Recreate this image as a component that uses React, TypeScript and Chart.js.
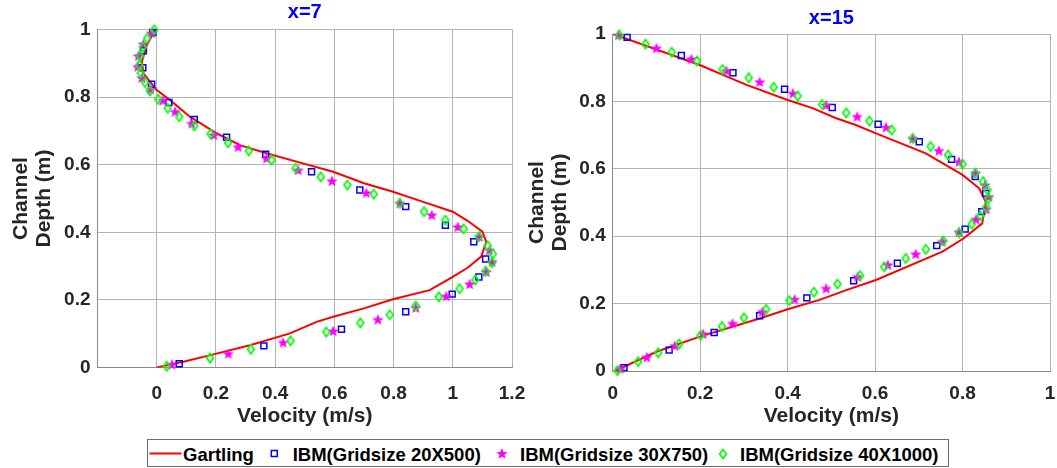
import React, { useEffect, useRef } from "react";
import { Chart, registerables } from "chart.js";

Chart.register(...registerables);

// ---------- Data: x = 7 ----------
const leftGartlingX = [-0.005, -0.035, -0.05, -0.045, 0.0, 0.045, 0.112, 0.202, 0.281, 0.371, 0.472, 0.596, 0.7, 0.798, 0.9, 1.0, 1.05, 1.1, 1.113, 1.096, 1.05, 1.0, 0.922, 0.798, 0.7, 0.596, 0.54, 0.45, 0.315, 0.202, 0.09, 0.0];
const leftGartlingY = [1.0, 0.95, 0.905, 0.87, 0.821, 0.791, 0.742, 0.693, 0.658, 0.634, 0.609, 0.579, 0.545, 0.52, 0.49, 0.461, 0.434, 0.402, 0.372, 0.328, 0.295, 0.268, 0.229, 0.202, 0.175, 0.15, 0.135, 0.101, 0.066, 0.041, 0.017, 0.0];

const leftG20X = [0.076, 0.362, 0.624, 0.841, 0.998, 1.088, 1.111, 1.071, 0.975, 0.841, 0.686, 0.523, 0.368, 0.236, 0.127, 0.041, -0.017, -0.047, -0.045, -0.013];
const leftG20Y = [0.011, 0.064, 0.113, 0.165, 0.217, 0.268, 0.321, 0.372, 0.421, 0.476, 0.525, 0.579, 0.631, 0.681, 0.734, 0.784, 0.838, 0.887, 0.937, 0.991];

const leftG30X = [0.051, 0.242, 0.427, 0.596, 0.747, 0.875, 0.978, 1.057, 1.113, 1.133, 1.124, 1.09, 1.017, 0.929, 0.821, 0.708, 0.592, 0.478, 0.371, 0.275, 0.193, 0.118, 0.062, 0.02, -0.02, -0.05, -0.064, -0.062, -0.045, -0.017];
const leftG30Y = [0.009, 0.041, 0.074, 0.108, 0.142, 0.177, 0.211, 0.247, 0.283, 0.313, 0.347, 0.387, 0.416, 0.451, 0.486, 0.517, 0.552, 0.584, 0.619, 0.653, 0.688, 0.722, 0.757, 0.79, 0.823, 0.857, 0.89, 0.922, 0.957, 0.99];

const leftG40X = [0.034, 0.18, 0.318, 0.452, 0.573, 0.688, 0.787, 0.875, 0.953, 1.023, 1.076, 1.111, 1.133, 1.135, 1.118, 1.088, 1.037, 0.975, 0.903, 0.821, 0.733, 0.644, 0.554, 0.469, 0.388, 0.311, 0.241, 0.182, 0.127, 0.076, 0.037, 0.005, -0.023, -0.039, -0.054, -0.059, -0.056, -0.047, -0.032, -0.008];
const leftG40Y = [0.004, 0.028, 0.054, 0.079, 0.105, 0.132, 0.156, 0.182, 0.209, 0.233, 0.259, 0.285, 0.31, 0.336, 0.36, 0.387, 0.41, 0.436, 0.461, 0.486, 0.513, 0.54, 0.564, 0.589, 0.614, 0.641, 0.665, 0.691, 0.715, 0.742, 0.767, 0.794, 0.818, 0.843, 0.871, 0.895, 0.922, 0.948, 0.974, 0.999];

// ---------- Data: x = 15 ----------
const rightGartlingX = [0.005, 0.1, 0.199, 0.336, 0.4, 0.473, 0.534, 0.602, 0.754, 0.803, 0.845, 0.853, 0.838, 0.8, 0.716, 0.602, 0.556, 0.511, 0.457, 0.4, 0.306, 0.199, 0.001];
const rightGartlingY = [0.0, 0.057, 0.102, 0.156, 0.183, 0.211, 0.24, 0.27, 0.354, 0.394, 0.438, 0.502, 0.542, 0.582, 0.646, 0.705, 0.73, 0.75, 0.78, 0.804, 0.849, 0.908, 1.0];

const rightG20X = [0.026, 0.129, 0.232, 0.336, 0.444, 0.551, 0.651, 0.741, 0.806, 0.844, 0.853, 0.829, 0.775, 0.701, 0.607, 0.502, 0.393, 0.275, 0.157, 0.033];
const rightG20Y = [0.01, 0.062, 0.114, 0.164, 0.217, 0.268, 0.32, 0.372, 0.421, 0.473, 0.527, 0.577, 0.628, 0.68, 0.732, 0.782, 0.836, 0.885, 0.936, 0.99];

const rightG30X = [0.017, 0.078, 0.142, 0.207, 0.274, 0.342, 0.416, 0.488, 0.56, 0.629, 0.693, 0.754, 0.792, 0.831, 0.854, 0.86, 0.851, 0.83, 0.792, 0.746, 0.686, 0.625, 0.559, 0.488, 0.412, 0.336, 0.26, 0.18, 0.1, 0.013];
const rightG30Y = [0.007, 0.041, 0.075, 0.11, 0.141, 0.176, 0.213, 0.245, 0.28, 0.315, 0.347, 0.384, 0.413, 0.45, 0.48, 0.517, 0.552, 0.587, 0.621, 0.654, 0.69, 0.723, 0.755, 0.789, 0.824, 0.858, 0.891, 0.926, 0.958, 0.997];

const rightG40X = [0.011, 0.058, 0.104, 0.152, 0.201, 0.25, 0.3, 0.351, 0.404, 0.46, 0.514, 0.566, 0.621, 0.67, 0.716, 0.756, 0.792, 0.821, 0.841, 0.854, 0.859, 0.857, 0.847, 0.829, 0.8, 0.767, 0.727, 0.686, 0.638, 0.587, 0.534, 0.479, 0.423, 0.368, 0.311, 0.251, 0.193, 0.135, 0.075, 0.015];
const rightG40Y = [0.001, 0.028, 0.054, 0.08, 0.106, 0.132, 0.158, 0.183, 0.209, 0.234, 0.258, 0.283, 0.309, 0.334, 0.361, 0.386, 0.41, 0.436, 0.461, 0.486, 0.511, 0.537, 0.562, 0.587, 0.614, 0.641, 0.666, 0.69, 0.715, 0.742, 0.766, 0.791, 0.816, 0.842, 0.87, 0.895, 0.92, 0.946, 0.97, 0.997];

// ---------- Labels ----------
const seriesNames = ["Gartling", "IBM(Gridsize 20X500)", "IBM(Gridsize 30X750)", "IBM(Gridsize 40X1000)"];
const plotTitles = ["x=7", "x=15"];
const xAxisTitle = "Velocity (m/s)";
const yAxisTitle = ["Channel", "Depth (m)"];

const FONT = "'Liberation Sans', Arial, Helvetica, sans-serif";
const TEXT = "#262626";
const RED = "#ff0000";
const BLUE = "#0000ff";
const MAGENTA = "#ff00ff";
const GREEN = "#00ff00";

const pts = (xs: number[], ys: number[]) => xs.map((x, i) => ({ x, y: ys[i] }));

function starCanvas(R: number, r: number, color: string) {
  const size = Math.ceil(R * 2) + 2;
  const c = document.createElement("canvas");
  c.width = size;
  c.height = size;
  const ctx = c.getContext("2d")!;
  ctx.fillStyle = color;
  ctx.beginPath();
  for (let i = 0; i < 10; i++) {
    const a = -Math.PI / 2 + (i * Math.PI) / 5;
    const rad = i % 2 === 0 ? R : r;
    const px = size / 2 + rad * Math.cos(a);
    const py = size / 2 + 0.5 + rad * Math.sin(a);
    if (i === 0) ctx.moveTo(px, py);
    else ctx.lineTo(px, py);
  }
  ctx.closePath();
  ctx.fill();
  return c;
}

function diamondCanvas(hw: number, hh: number, color: string, lw: number) {
  const w = Math.ceil(hw * 2 + lw * 2 + 1);
  const h = Math.ceil(hh * 2 + lw * 2 + 1);
  const c = document.createElement("canvas");
  c.width = w;
  c.height = h;
  const ctx = c.getContext("2d")!;
  ctx.strokeStyle = color;
  ctx.lineWidth = lw;
  ctx.beginPath();
  ctx.moveTo(w / 2, h / 2 - hh);
  ctx.lineTo(w / 2 + hw, h / 2);
  ctx.lineTo(w / 2, h / 2 + hh);
  ctx.lineTo(w / 2 - hw, h / 2);
  ctx.closePath();
  ctx.stroke();
  return c;
}

type Cfg = {
  title: string;
  xmin: number;
  xmax: number;
  yWidth: number;
  xHeight: number;
  layoutPad: { left: number; right: number; top: number; bottom: number };
  titlePad: { top: number; bottom: number };
  yTitlePadTop: number;
  xTickLen: number;
  xTitlePadBottom: number;
  gart: { x: number; y: number }[];
  g20: { x: number; y: number }[];
  g30: { x: number; y: number }[];
  g40: { x: number; y: number }[];
};

const fmt = (v: number) => String(Number(v.toFixed(2)));

function buildConfig(cfg: Cfg, star: HTMLCanvasElement, diamond: HTMLCanvasElement): any {
  return {
    type: "scatter",
    data: {
      datasets: [
        {
          label: seriesNames[0],
          data: cfg.gart,
          showLine: true,
          borderColor: RED,
          borderWidth: 2,
          pointRadius: 0,
          tension: 0,
          order: 3,
        },
        {
          label: seriesNames[1],
          data: cfg.g20,
          pointStyle: "rect",
          pointRadius: 4.2,
          pointBorderColor: BLUE,
          pointBackgroundColor: "rgba(0,0,0,0)",
          pointBorderWidth: 1.5,
          clip: false,
          order: 2,
        },
        {
          label: seriesNames[2],
          data: cfg.g30,
          pointStyle: star,
          pointRadius: 6,
          clip: false,
          order: 1,
        },
        {
          label: seriesNames[3],
          data: cfg.g40,
          pointStyle: diamond,
          pointRadius: 5,
          clip: false,
          order: 0,
        },
      ],
    },
    options: {
      responsive: false,
      animation: false,
      events: [],
      layout: { padding: cfg.layoutPad },
      plugins: {
        legend: { display: false },
        tooltip: { enabled: false },
        title: {
          display: true,
          text: cfg.title,
          color: BLUE,
          fullSize: false,
          font: { family: FONT, size: 20, weight: "bold", lineHeight: 1.2 },
          padding: cfg.titlePad,
        },
      },
      scales: {
        x: {
          type: "linear",
          min: cfg.xmin,
          max: cfg.xmax,
          afterFit: (s: any) => {
            s.height = cfg.xHeight;
          },
          ticks: {
            stepSize: 0.2,
            autoSkip: false,
            maxRotation: 0,
            padding: 0,
            color: TEXT,
            font: { family: FONT, size: 19, weight: "bold" },
            callback: (v: number) => (v < -0.1 ? "" : fmt(v)),
          },
          grid: {
            color: "#b4b4b4",
            lineWidth: 1,
            drawTicks: true,
            tickLength: cfg.xTickLen,
            tickColor: "rgba(0,0,0,0)",
          },
          border: { color: "#8a8a8a", width: 1 },
          title: {
            display: true,
            text: xAxisTitle,
            color: TEXT,
            font: { family: FONT, size: 21, weight: "bold", lineHeight: 1.2 },
            padding: { top: 0, bottom: cfg.xTitlePadBottom },
          },
        },
        y: {
          type: "linear",
          min: 0,
          max: 1,
          afterFit: (s: any) => {
            s.width = cfg.yWidth;
          },
          ticks: {
            stepSize: 0.2,
            autoSkip: false,
            padding: 7,
            color: TEXT,
            font: { family: FONT, size: 19, weight: "bold" },
            callback: (v: number) => fmt(v),
          },
          grid: { color: "#b4b4b4", lineWidth: 1, drawTicks: false },
          border: { color: "#8a8a8a", width: 1 },
          title: {
            display: true,
            text: yAxisTitle,
            color: TEXT,
            font: { family: FONT, size: 21, weight: "bold", lineHeight: 1.11 },
            padding: { top: cfg.yTitlePadTop, bottom: 0 },
          },
        },
      },
    },
  };
}

function PlotCanvas({ cfg, left, width, height }: { cfg: Cfg; left: number; width: number; height: number }) {
  const ref = useRef<HTMLCanvasElement>(null);
  useEffect(() => {
    if (!ref.current) return;
    const star = starCanvas(6, 2.6, MAGENTA);
    const diamond = diamondCanvas(3.4, 4.6, GREEN, 1.7);
    const chart = new Chart(ref.current, buildConfig(cfg, star, diamond));
    return () => chart.destroy();
  }, []);
  return (
    <canvas
      ref={ref}
      width={width}
      height={height}
      style={{ position: "absolute", left, top: 0, width, height }}
    />
  );
}

const leftCfg: Cfg = {
  title: plotTitles[0],
  xmin: -0.2,
  xmax: 1.2,
  yWidth: 97.5,
  xHeight: 62.5,
  layoutPad: { left: 0, right: 18, top: 0, bottom: 0 },
  titlePad: { top: 0, bottom: 5.5 },
  yTitlePadTop: 9.3,
  xTickLen: 14.5,
  xTitlePadBottom: 1.4,
  gart: pts(leftGartlingX, leftGartlingY),
  g20: pts(leftG20X, leftG20Y),
  g30: pts(leftG30X, leftG30Y),
  g40: pts(leftG40X, leftG40Y),
};

const rightCfg: Cfg = {
  title: plotTitles[1],
  xmin: 0,
  xmax: 1,
  yWidth: 92.7,
  xHeight: 59,
  layoutPad: { left: 0, right: 5.5, top: 0, bottom: 0 },
  titlePad: { top: 6, bottom: 4 },
  yTitlePadTop: 5.3,
  xTickLen: 11,
  xTitlePadBottom: 1.4,
  gart: pts(rightGartlingX, rightGartlingY),
  g20: pts(rightG20X, rightG20Y),
  g30: pts(rightG30X, rightG30Y),
  g40: pts(rightG40X, rightG40Y),
};

function starPoints(cx: number, cy: number, R: number, r: number) {
  const p: string[] = [];
  for (let i = 0; i < 10; i++) {
    const a = -Math.PI / 2 + (i * Math.PI) / 5;
    const rad = i % 2 === 0 ? R : r;
    p.push(`${(cx + rad * Math.cos(a)).toFixed(2)},${(cy + rad * Math.sin(a)).toFixed(2)}`);
  }
  return p.join(" ");
}

const legendText: React.CSSProperties = {
  position: "absolute",
  top: 441,
  height: 28,
  lineHeight: "28px",
  fontFamily: FONT,
  fontWeight: "bold",
  fontSize: 18.5,
  color: "#000",
  whiteSpace: "nowrap",
};

export default function App() {
  return (
    <div style={{ position: "absolute", left: 0, top: 0, width: 1057, height: 468, background: "#fff", overflow: "hidden" }}>
      <PlotCanvas cfg={leftCfg} left={0} width={530} height={430} />
      <PlotCanvas cfg={rightCfg} left={520} width={537} height={430} />
      <div
        style={{
          position: "absolute",
          left: 147,
          top: 439,
          width: 802,
          height: 28,
          boxSizing: "border-box",
          border: "1px solid #6a6a6a",
          background: "#fff",
        }}
      />
      <svg style={{ position: "absolute", left: 0, top: 439, overflow: "visible" }} width={1057} height={29}>
        <line x1={149.5} y1={14.5} x2={181.5} y2={14.5} stroke={RED} strokeWidth={2} />
        <rect x={271.3} y={11.5} width={6} height={6} fill="none" stroke={BLUE} strokeWidth={1.5} />
        <polygon points={starPoints(502, 15, 6, 2.6)} fill={MAGENTA} />
        <polygon points="723,10.4 726.4,15 723,19.6 719.6,15" fill="none" stroke={GREEN} strokeWidth={1.7} />
      </svg>
      <div style={{ ...legendText, left: 183 }}>{seriesNames[0]}</div>
      <div style={{ ...legendText, left: 292.7 }}>{seriesNames[1]}</div>
      <div style={{ ...legendText, left: 520 }}>{seriesNames[2]}</div>
      <div style={{ ...legendText, left: 740 }}>{seriesNames[3]}</div>
    </div>
  );
}
